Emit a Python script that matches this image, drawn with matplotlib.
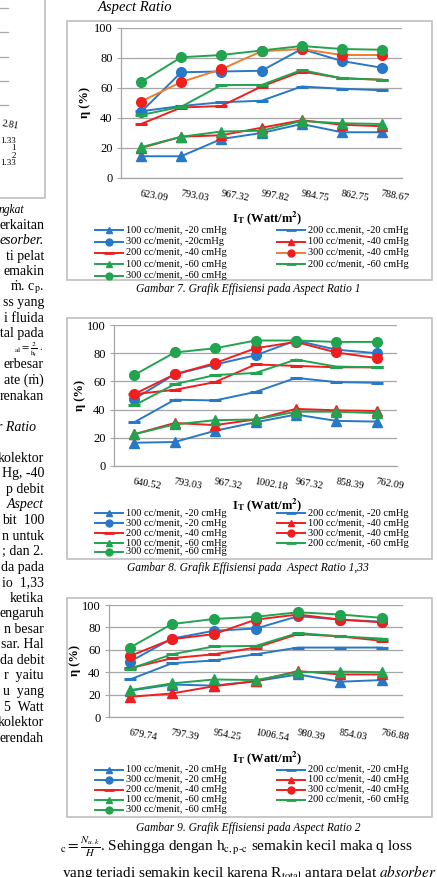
import matplotlib.pyplot as plt
from matplotlib.lines import Line2D
from matplotlib.patches import Rectangle

plt.rcParams['font.family'] = ['Liberation Serif', 'DejaVu Serif']
plt.rcParams['mathtext.fontset'] = 'stix'

W, H = 437, 877

# Aspect Ratio 1
ar1_it = ['623.09', '793.03', '967.32', '997.82', '984.75', '862.75', '788.67']
ar1_100_20 = [14.5, 14.5, 26, 30, 36, 30.5, 30.5]
ar1_200_20 = [44.5, 48, 50.5, 51.5, 61, 59.5, 58.5]
ar1_300_20 = [44, 70.5, 71, 71.5, 86, 78, 73.5]
ar1_100_40 = [20, 27.5, 28.5, 33.5, 38.5, 35.5, 34.5]
ar1_200_40 = [36, 47, 48, 61, 71, 66.5, 65.5]
ar1_300_40 = [51, 64, 72.5, 84.5, 86, 82, 82]
ar1_100_60 = [20.5, 27.5, 31, 31.5, 38, 36.5, 36]
ar1_200_60 = [42, 47.5, 62, 62, 72, 66.5, 65.5]
ar1_300_60 = [64, 80.5, 82, 85, 88, 86, 85.5]
ar1_labels = ['100 cc/menit, -20 cmHg', '200 cc.menit, -20 cmHg', '300 cc/menit, -20cmHg',
              '100 cc/menit, -40 cmHg', '200 cc/menit, -40 cmHg', '300 cc/menit, -40 cmHg',
              '100 cc/menit, -60 cmHg', '200 cc/menit, -60 cmHg', '300 cc/menit, -60 cmHg']

# Aspect Ratio 1,33
ar133_it = ['640.52', '793.03', '967.32', '1002.18', '967.32', '858.39', '762.09']
ar133_100_20 = [16.5, 17, 25, 31, 36.5, 32, 31.5]
ar133_200_20 = [31, 47, 46.5, 52.5, 62.5, 59.5, 59]
ar133_300_20 = [47.5, 65, 72, 78.5, 89, 82.5, 80]
ar133_100_40 = [22.5, 30.5, 29, 33, 40.5, 39.5, 39]
ar133_200_40 = [51, 54, 59.5, 72, 71, 70, 70]
ar133_300_40 = [51, 65, 73, 83.5, 88, 80.5, 76.5]
ar133_100_60 = [22.5, 29.5, 32.5, 33, 38.5, 38.5, 37.5]
ar133_200_60 = [43, 58, 64.5, 66, 75.5, 70.5, 70]
ar133_300_60 = [64.5, 80.5, 83.5, 89, 89, 88, 88]

# Aspect Ratio 2
ar2_it = ['679.74', '797.39', '954.25', '1006.54', '980.39', '854.03', '766.88']
ar2_100_20 = [23.5, 29, 28, 32, 38, 31.5, 33]
ar2_200_20 = [33.5, 48, 50.5, 56, 62, 62, 62]
ar2_300_20 = [49.5, 70, 77, 79, 90, 87, 85]
ar2_100_40 = [18, 21, 27.5, 32, 41, 38, 38]
ar2_200_40 = [43.5, 52.5, 56, 62, 74, 72, 68]
ar2_300_40 = [54.5, 69.5, 74, 87, 91.5, 87, 84.5]
ar2_100_60 = [24, 30, 33.5, 33, 40, 40.5, 40]
ar2_200_60 = [43, 56, 63, 63.5, 75, 72, 70]
ar2_300_60 = [62, 83, 87.5, 89.5, 93.5, 91.5, 88.5]
ar_labels = ['100 cc/menit, -20 cmHg', '200 cc/menit, -20 cmHg', '300 cc/menit, -20 cmHg',
             '100 cc/menit, -40 cmHg', '200 cc/menit, -40 cmHg', '300 cc/menit, -40 cmHg',
             '100 cc/menit, -60 cmHg', '200 cc/menit, -60 cmHg', '300 cc/menit, -60 cmHg']

BLUE = '#2878C8'
RED = '#F01E1E'
GREEN = '#22A34F'
ORANGE = '#ED7D31'
GRID = '#A6A6A6'
BOX = '#BFBFBF'
markers = ['^', '_', 'o'] * 3
mcolors = [BLUE] * 3 + [RED] * 3 + [GREEN] * 3


def fx(x):
    return x / W


def fy(y):
    return 1 - y / H


fig = plt.figure(figsize=(W / 100, H / 100), dpi=100)


def draw_chart(box, plot, ticks, series, labels, lcolors, ylab_x, xlab_y, leg_rows, cap_y, caption):
    x0, y0, x1, y1 = box
    fig.add_artist(Rectangle((fx(x0), fy(y1)), fx(x1 - x0), (y1 - y0) / H, transform=fig.transFigure,
                             fill=False, ec=BOX, lw=1.2))
    l, t, r, b = plot
    ax = fig.add_axes([fx(l), fy(b), fx(r - l), (b - t) / H])
    for i, vals in enumerate(series):
        ms = 9 if markers[i] == '_' else 7
        ax.plot(range(len(vals)), vals, color=lcolors[i], lw=1.4, marker=markers[i], ms=ms,
                mfc=mcolors[i], mec=mcolors[i], mew=2.2 if markers[i] == '_' else 1, zorder=3 + i * 0.01)
    ax.set_xlim(-0.5, len(ticks) - 0.5)
    ax.set_ylim(0, 100)
    ax.set_yticks(range(0, 101, 20))
    ax.set_xticks(range(len(ticks)))
    ax.set_xticklabels(ticks, rotation=-10, ha='left', rotation_mode='anchor', fontsize=7.5)
    ax.tick_params(axis='x', length=0, pad=8)
    ax.tick_params(axis='y', length=3, color=GRID, labelsize=9, pad=3)
    ax.yaxis.grid(True, color=GRID, lw=0.9)
    ax.set_axisbelow(True)
    for s in ['top', 'right']:
        ax.spines[s].set_visible(False)
    for s in ['left', 'bottom']:
        ax.spines[s].set_color(GRID)
        ax.spines[s].set_linewidth(0.9)
    fig.text(fx(ylab_x), fy((t + b) / 2), 'η (%)', rotation=90, ha='center', va='center',
             fontsize=9, fontweight='bold')
    fig.text(fx(267), fy(xlab_y), r'I$_\mathbf{T}$ (Watt/m$^\mathbf{2}$)', ha='center', va='center',
             fontsize=9, fontweight='bold')
    for i, lab in enumerate(labels):
        row, col = i // 2, i % 2
        ly = fy(leg_rows[row])
        lx0 = 95 if col == 0 else 277
        fig.add_artist(Line2D([fx(lx0), fx(lx0 + 28)], [ly, ly], transform=fig.transFigure,
                              color=lcolors[i], lw=1.4))
        fig.add_artist(Line2D([fx(lx0 + 14)], [ly], transform=fig.transFigure, marker=markers[i],
                              ms=7 if markers[i] == '_' else 5, mfc=mcolors[i], mec=mcolors[i],
                              mew=2 if markers[i] == '_' else 1, ls='none'))
        fig.text(fx(lx0 + 31), ly, lab, ha='left', va='center', fontsize=7.5)
    fig.text(fx(248), fy(cap_y), caption, ha='center', va='center', fontsize=8.3, style='italic')


ar1_colors = [BLUE] * 3 + [RED, RED, ORANGE] + [GREEN] * 3
ar_colors = [BLUE] * 3 + [RED] * 3 + [GREEN] * 3

draw_chart((67, 21, 432, 280), (121, 28, 402, 178), ar1_it,
           [ar1_100_20, ar1_200_20, ar1_300_20, ar1_100_40, ar1_200_40, ar1_300_40,
            ar1_100_60, ar1_200_60, ar1_300_60],
           ar1_labels, ar1_colors, 85, 218, [230, 241.5, 253, 264.3, 275.5], 289,
           'Gambar 7. Grafik Effisiensi pada Aspect Ratio 1')
draw_chart((67, 318, 432, 559), (114, 325, 397, 466), ar133_it,
           [ar133_100_20, ar133_200_20, ar133_300_20, ar133_100_40, ar133_200_40, ar133_300_40,
            ar133_100_60, ar133_200_60, ar133_300_60],
           ar_labels, ar_colors, 80, 505, [513, 523, 533, 543, 552], 568,
           'Gambar 8. Grafik Effisiensi pada  Aspect Ratio 1,33')
draw_chart((67, 598, 432, 817), (109, 605, 403, 717), ar2_it,
           [ar2_100_20, ar2_200_20, ar2_300_20, ar2_100_40, ar2_200_40, ar2_300_40,
            ar2_100_60, ar2_200_60, ar2_300_60],
           ar_labels, ar_colors, 75, 758, [770, 780, 790, 800, 810], 828,
           'Gambar 9. Grafik Effisiensi pada Aspect Ratio 2')

# page context: heading, left column, text below
fig.text(fx(135), fy(7), 'Aspect Ratio', ha='center', va='center', fontsize=10.5, style='italic')
fig.add_artist(Line2D([fx(45), fx(45), fx(0)], [fy(0), fy(198), fy(198)], transform=fig.transFigure,
                      color=BOX, lw=1.2))
for gy in [8, 32, 57, 81, 105]:
    fig.add_artist(Line2D([fx(0), fx(8)], [fy(gy), fy(gy)], transform=fig.transFigure, color=GRID, lw=0.9))
fig.text(fx(1), fy(125), '2.81', ha='left', va='center', fontsize=7, rotation=-10)
for ty, tt in zip([141, 148.5, 156, 163], ['1.33', '1', '2', '1.33']):
    fig.text(fx(16), fy(ty), tt, ha='right', va='center', fontsize=6.5)
fig.text(fx(24), fy(210), 'ngkat', ha='right', va='center', fontsize=8.3, style='italic')

left_lines = ['erkaitan', 'esorber.', 'ti pelat', 'emakin', 'ṁ. c$_{\\mathrm{p}}$.', 'ss yang',
              'i fluida', 'otal pada', '$_{\\mathrm{al}} = \\frac{2}{\\mathrm{h_f}}$ .',
              'erbesar', 'ate (ṁ)', 'renakan', '', 'r Ratio', '', 'kolektor', 'Hg, -40', 'p debit',
              'Aspect', 'bit  100', 'n untuk', '; dan 2.', 'da pada', 'io  1,33', 'ketika',
              'engaruh', 'n besar', 'sar. Hal', 'da debit', 'r  yaitu', 'u  yang', '5  Watt',
              'kolektor', 'erendah']
italic_lines = {1, 13, 18}
for i, txt in enumerate(left_lines):
    if not txt:
        continue
    rx = 36 if i == 13 else 44
    fs = 7.5 if i == 8 else 10
    fig.text(fx(rx), fy(225 + i * 15.55), txt, ha='right', va='center', fontsize=fs,
             style='italic' if i in italic_lines else 'normal')

fig.text(fx(60), fy(847), r'$_{\mathrm{c}} = \frac{N_{u.k}}{H}$. Sehingga dengan h$_{\mathrm{c,p\text{-}c}}$ semakin kecil maka q loss',
         ha='left', va='center', fontsize=11)
fig.text(fx(62), fy(872), r'yang terjadi semakin kecil karena R$_{\mathrm{total}}$ antara pelat $\mathit{absorber}$',
         ha='left', va='center', fontsize=11)

fig.savefig('out.png', dpi=100)
